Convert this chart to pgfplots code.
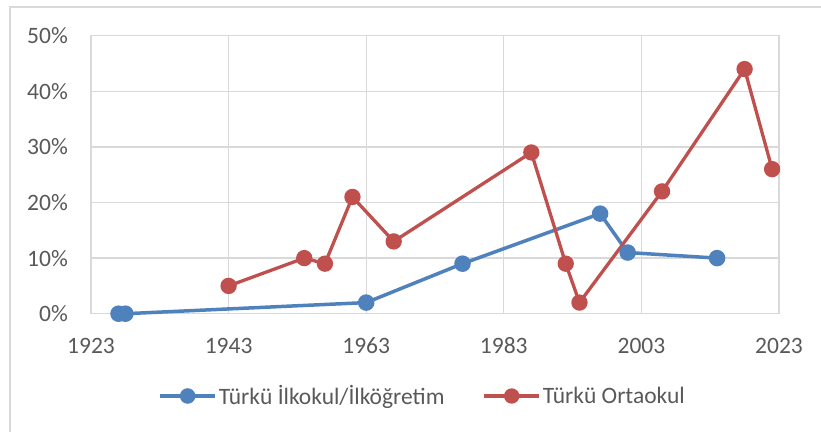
\documentclass[border=0pt]{standalone}
\usepackage{fontspec}
\setmainfont{Carlito}
\usepackage{pgfplots}
\pgfplotsset{compat=1.18}
\definecolor{cblue}{HTML}{4F81BD}
\definecolor{cred}{HTML}{C0504D}
\definecolor{ctext}{HTML}{595959}
\definecolor{cgrid}{HTML}{D9D9D9}
\begin{document}
\begin{tikzpicture}[x=1pt,y=1pt]
\useasboundingbox (0,0) rectangle (821,432);
\draw[cgrid, line width=1.5pt] (10,0) |- (821,425);
\begin{axis}[
  at={(91pt,118.3pt)}, anchor=south west,
  scale only axis, width=688pt, height=278pt,
  xmin=1923, xmax=2023, ymin=0, ymax=50,
  xtick={1923,1943,1963,1983,2003,2023},
  xticklabels={1923,1943,1963,1983,2003,2023},
  ytick={0,10,20,30,40,50},
  yticklabels={0\%,10\%,20\%,30\%,40\%,50\%},
  major tick length=0pt,
  grid=major,
  grid style={cgrid, line width=1.3pt},
  axis line style={cgrid, line width=1.3pt},
  tick label style={font=\fontsize{23.5}{28}\selectfont, text=ctext, inner sep=0pt},
  xticklabel style={yshift=-24pt},
  yticklabel style={xshift=-23pt},
  clip=false,
  legend columns=2,
  legend style={at={(0.482,-0.296)}, anchor=center, draw=none, fill=none,
    font=\fontsize{23.5}{28}\selectfont, text=ctext,
    /tikz/every even column/.append style={column sep=36pt},
    nodes={inner sep=2pt}},
  legend image code/.code={
    \draw[#1, mark=none] (0pt,0pt) -- (55pt,0pt);
    \fill[#1] (27.5pt,0pt) circle (6pt);
  },
]
\addplot[cblue, line width=3.5pt, mark=*, mark size=6.5pt] coordinates {
  (1927,0) (1928,0) (1963,2) (1977,9) (1997,18) (2001,11) (2014,10)
};
\addlegendentry{Türkü İlkokul/İlköğretim}
\addplot[cred, line width=3.3pt, mark=*, mark size=6.5pt] coordinates {
  (1943,5) (1954,10) (1957,9) (1961,21) (1967,13) (1987,29) (1992,9) (1994,2) (2006,22) (2018,44) (2022,26)
};
\addlegendentry{Türkü Ortaokul}
\end{axis}
\end{tikzpicture}
\end{document}
